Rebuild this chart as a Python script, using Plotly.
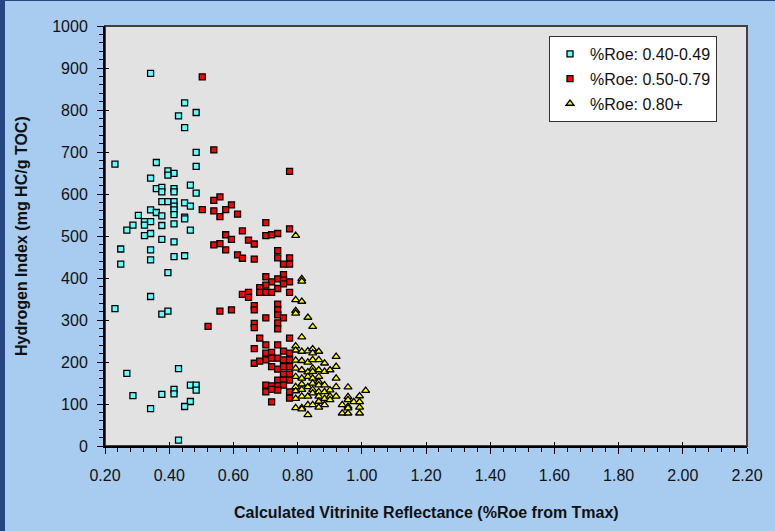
import plotly.graph_objects as go

# ---- data ----
roe_low = [0.342, 0.448, 0.484, 0.429, 0.448, 0.484,
           0.231, 0.360, 0.484, 0.396, 0.415, 0.396, 0.342, 0.466,
           0.360, 0.377, 0.377, 0.415, 0.415, 0.484,
           0.377, 0.396, 0.415, 0.448, 0.415, 0.466,
           0.342, 0.360, 0.415, 0.415, 0.377, 0.304, 0.448, 0.448,
           0.287, 0.323, 0.342, 0.323, 0.377, 0.415,
           0.268, 0.323, 0.342, 0.466, 0.377, 0.415,
           0.249, 0.342, 0.415, 0.448, 0.342, 0.249, 0.396, 0.342, 0.231, 0.377, 0.396,
           0.429, 0.268, 0.466, 0.484, 0.484, 0.415, 0.415, 0.287, 0.377, 0.466, 0.448, 0.342, 0.429]
hi_low = [887, 817, 794, 786, 758, 699,
          671, 675, 666, 655, 649, 645, 638, 621,
          613, 616, 605, 613, 605, 602,
          582, 582, 582, 579, 571, 571,
          562, 556, 562, 551, 548, 549, 545, 541,
          526, 534, 534, 526, 525, 529,
          514, 501, 506, 514, 492, 486,
          469, 467, 451, 453, 443, 433, 413, 356, 327, 314, 321,
          184, 173, 145, 145, 133, 135, 124, 120, 123, 106, 94, 89, 14]

roe_mid = [0.503, 0.539, 0.775,
           0.539, 0.558, 0.594, 0.503, 0.539, 0.576, 0.558, 0.613,
           0.701, 0.628, 0.576, 0.701, 0.719, 0.738, 0.775,
           0.594, 0.539, 0.558, 0.576, 0.647, 0.665,
           0.613, 0.628, 0.665, 0.738, 0.738, 0.775, 0.756, 0.775,
           0.701, 0.756, 0.738, 0.756, 0.719, 0.775, 0.701, 0.682, 0.682, 0.701, 0.719, 0.738, 0.756, 0.775,
           0.647, 0.628, 0.647,
           0.665, 0.665, 0.738, 0.738, 0.738, 0.756, 0.738, 0.738,
           0.558, 0.594, 0.701, 0.521, 0.665, 0.665,
           0.775, 0.682, 0.701, 0.738, 0.665, 0.701, 0.719, 0.756, 0.775,
           0.701, 0.719, 0.738, 0.756, 0.775, 0.665, 0.682,
           0.719, 0.738, 0.756, 0.775, 0.756, 0.775, 0.738, 0.756, 0.775,
           0.701, 0.719, 0.738, 0.756, 0.701, 0.719, 0.738, 0.775, 0.775, 0.719]
hi_mid = [879, 705, 654,
          585, 593, 574, 563, 560, 563, 546, 552,
          532, 512, 503, 501, 503, 506, 517,
          492, 479, 482, 467, 490, 481,
          455, 447, 445, 465, 448, 448, 433, 433,
          403, 408, 398, 395, 391, 391, 383, 377, 366, 366, 366, 375, 386, 366,
          366, 361, 354,
          334, 324, 338, 324, 312, 305, 293, 279,
          321, 324, 305, 285, 292, 282,
          257, 257, 241, 241, 232, 221, 223, 226, 221,
          205, 209, 209, 205, 205, 197, 202,
          189, 183, 189, 189, 171, 171, 157, 157, 157,
          145, 143, 143, 145, 129, 135, 133, 129, 114, 105]

roe_high = [0.794, 0.813, 0.813, 0.794, 0.813, 0.794, 0.794, 0.832, 0.847, 0.813,
            0.794, 0.794, 0.794, 0.794, 0.794, 0.794, 0.794, 0.794, 0.794,
            0.813, 0.813, 0.813, 0.813, 0.813, 0.813, 0.813, 0.813, 0.813,
            0.832, 0.832, 0.832, 0.832, 0.832, 0.832, 0.832, 0.832,
            0.847, 0.847, 0.847, 0.847, 0.847, 0.847, 0.847, 0.847, 0.847, 0.847,
            0.866, 0.866, 0.866, 0.866, 0.866, 0.866, 0.866, 0.866, 0.866, 0.866,
            0.884, 0.884, 0.884, 0.884, 0.884, 0.884,
            0.901, 0.901, 0.901, 0.901,
            0.920, 0.920, 0.920, 0.920, 0.920,
            0.939, 0.939,
            0.957, 0.957, 0.957, 0.957, 0.957, 0.957,
            0.975,
            0.993, 0.993, 0.993, 0.993,
            1.012]
hi_high = [501, 398, 392, 348, 344, 322, 316, 306, 284, 259,
           238, 228, 204, 185, 165, 141, 131, 113, 91,
           225, 203, 181, 161, 147, 134, 118, 91, 88,
           226, 199, 176, 165, 141, 118, 98, 74,
           231, 221, 205, 185, 177, 161, 149, 134, 126, 98,
           225, 205, 181, 165, 153, 145, 129, 118, 106, 92,
           197, 177, 145, 129, 113, 98,
           181, 133, 118, 110,
           213, 189, 161, 141, 118,
           98, 78,
           140, 117, 110, 94, 90, 78,
           105,
           119, 105, 92, 78,
           132]

series_names = ["%Roe: 0.40-0.49", "%Roe: 0.50-0.79", "%Roe: 0.80+"]
x_ticks = [0.2, 0.4, 0.6, 0.8, 1.0, 1.2, 1.4, 1.6, 1.8, 2.0, 2.2]
x_tick_labels = ["0.20", "0.40", "0.60", "0.80", "1.00", "1.20", "1.40", "1.60", "1.80", "2.00", "2.20"]
y_ticks = [0, 100, 200, 300, 400, 500, 600, 700, 800, 900, 1000]
x_title = "Calculated Vitrinite Reflectance (%Roe from Tmax)"
y_title = "Hydrogen Index (mg HC/g TOC)"

FONT = "Arial, 'Liberation Sans', sans-serif"

fig = go.Figure()
styles = [
    dict(symbol="square", color="#66FFFF", size=6),
    dict(symbol="square", color="#FF0000", size=6),
    dict(symbol="triangle-up", color="#FFFF00", size=7),
]
data = [(roe_low, hi_low), (roe_mid, hi_mid), (roe_high, hi_high)]
for i, ((xs, ys), st, nm) in enumerate(zip(data, styles, series_names)):
    fig.add_trace(go.Scatter(
        x=xs, y=ys, mode="markers", name=nm, legendgroup=f"g{i}",
        marker=dict(symbol=st["symbol"], color=st["color"], size=st["size"],
                    line=dict(color="#000000", width=1.3)),
    ))

# invisible trace to create overlay axes (inside part of the "cross" major ticks)
fig.add_trace(go.Scatter(x=[None], y=[None], xaxis="x2", yaxis="y2",
                         showlegend=False, hoverinfo="skip"))

tickfont = dict(family=FONT, size=16, color="#111111")

fig.update_layout(
    width=775, height=531,
    margin=dict(l=105, r=28, t=26, b=85),
    paper_bgcolor="#A8CBF0",
    plot_bgcolor="#E2E2E2",
    showlegend=True,
    legend=dict(
        x=(549 - 105) / 642, y=(446 - 36) / 420, xanchor="left", yanchor="top",
        bgcolor="#FFFFFF", bordercolor="#333333", borderwidth=1,
        font=dict(family=FONT, size=16, color="#111111"),
        tracegroupgap=1, traceorder="grouped",
    ),
    xaxis=dict(
        range=[0.2, 2.2], tickvals=x_ticks, ticktext=x_tick_labels,
        ticks="outside", ticklen=6, tickwidth=1, tickcolor="#000000",
        minor=dict(dtick=0.04, tick0=0.2, ticks="outside", ticklen=4, tickcolor="#000000", tickwidth=1),
        showline=True, linecolor="#000000", linewidth=2,
        showgrid=False, zeroline=False, tickfont=tickfont,
        ticklabelstandoff=8,
    ),
    yaxis=dict(
        range=[0, 1000], tickvals=y_ticks,
        ticks="outside", ticklen=6, tickwidth=1, tickcolor="#000000",
        minor=dict(dtick=20, tick0=0, ticks="outside", ticklen=4, tickcolor="#000000", tickwidth=1),
        showline=True, linecolor="#000000", linewidth=2,
        showgrid=False, zeroline=False, tickfont=tickfont,
        ticklabelstandoff=6,
    ),
    xaxis2=dict(
        overlaying="x", matches="x", anchor="y2", side="bottom",
        range=[0.2, 2.2], tickvals=x_ticks, showticklabels=False,
        ticks="inside", ticklen=4, tickwidth=1, tickcolor="#000000",
        showline=False, showgrid=False, zeroline=False,
    ),
    yaxis2=dict(
        overlaying="y", matches="y", anchor="x2", side="left",
        range=[0, 1000], tickvals=y_ticks, showticklabels=False,
        ticks="inside", ticklen=4, tickwidth=1, tickcolor="#000000",
        showline=False, showgrid=False, zeroline=False,
    ),
    annotations=[
        dict(text=x_title, xref="paper", yref="paper", x=0.5, y=-0.1595,
             xanchor="center", yanchor="middle", showarrow=False,
             font=dict(family=FONT, size=16, color="#111111", weight="bold")),
        dict(text=y_title, xref="paper", yref="paper", x=(21 - 105) / 642, y=0.5,
             xanchor="center", yanchor="middle", showarrow=False, textangle=-90,
             font=dict(family=FONT, size=16, color="#111111", weight="bold")),
    ],
    shapes=[
        # plot area top/right border
        dict(type="rect", xref="paper", yref="paper", x0=0, y0=0, x1=1, y1=1,
             line=dict(color="#404040", width=2), layer="below"),
        # dark strip on the left edge of the picture
        dict(type="rect", xref="paper", yref="paper",
             x0=-105 / 642, x1=-100 / 642, y0=-85 / 420, y1=446 / 420,
             fillcolor="#27457F", line=dict(width=0)),
        # dark line on the top edge of the picture
        dict(type="rect", xref="paper", yref="paper",
             x0=-105 / 642, x1=670 / 642, y0=445 / 420, y1=446 / 420,
             fillcolor="#27457F", line=dict(width=0)),
    ],
)

fig.write_html("out.html")
